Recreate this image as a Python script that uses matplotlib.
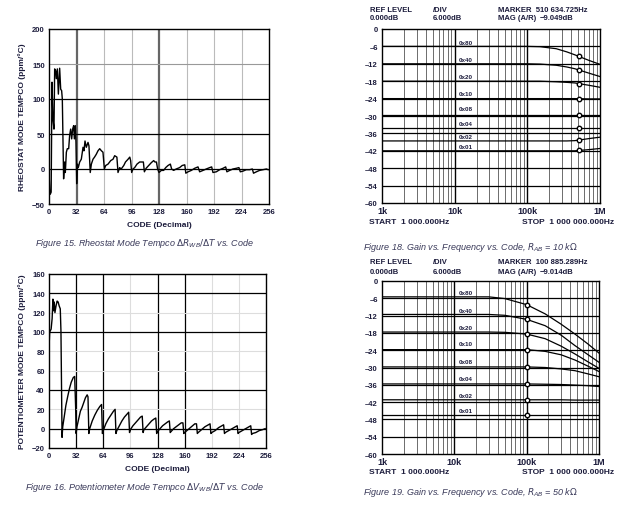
import matplotlib.pyplot as plt
from matplotlib.ticker import NullFormatter, FixedLocator

# ---- Figure 15: rheostat mode tempco
rheo_code = [0, 0.8, 1.5, 2.5, 3.5, 4.6, 5.8, 6.6, 7.8, 8.5,
             9.7, 10.9, 12.4, 13.6, 14.7, 15.5, 17, 18.2, 19, 20.2,
             21.3, 22.9, 24, 25.2, 26.4, 27.5, 28.7, 29.5, 30.6, 31.4,
             32.2, 33, 34.1, 35.7, 37.6, 39.6, 40.7, 41.9, 43.4, 45.4,
             46.5, 48, 49.3, 51.2, 53, 55, 57, 59, 61, 62.8,
             64.4, 66, 68.7, 71.8, 74.5, 76.4, 79, 80.3, 82.2, 84,
             87, 89, 92, 94, 95, 96.2, 97.7, 99.7, 102.4, 105.5,
             108.2, 109.8, 111, 113, 116, 119, 121.8, 123.3, 125, 126.4,
             128, 130.7, 133.4, 135.8, 138.5, 141.2, 142.7, 145, 148, 152,
             155, 158, 159.2, 161.8, 165.6, 169.5, 173.4, 175.3, 179.2, 183,
             187, 189.3, 190.8, 194.7, 198.6, 202.5, 205.6, 207, 210.2, 214,
             218, 221, 222.6, 225.8, 229.6, 233.5, 236.6, 238, 241.3, 245,
             249, 253, 255]
rheo_val = [-2, -29, -36, -33, 124, 71, 57, 143, 140, 129,
            143, 107, 144, 114, 112, 100, -14, 10, -5, 24,
            29, 29, 48, 57, 43, 57, 62, 43, 62, 38,
            -21, 7, 2, 10, 14, 31, 26, 40, 31, 38,
            33, -5, 7, 14, 17, 21, 26, 29, 26, 24,
            0, 5, 7, 12, 14, 19, 17, -5, 2, 0,
            5, 10, 14, 17, 12, -5, 0, 2, 7, 10,
            10, 10, -4, 1, 5, 9, 12, 10, 10, 0,
            -5, -2, -2, 2, 5, 7, 0, -2, 0, 2,
            5, 6, -6, -4, -2, 1, 3, -4, -2, 0,
            2, 3, -5, -4, -1, 1, 3, -4, -2, 0,
            1, 2, -4, -3, -1, -1, 0, -6, -4, -2,
            -1, 0, -1]

# ---- Figure 16: potentiometer mode tempco
pot_code = [0, 0.8, 2.5, 3.7, 4.6, 5.4, 6.2, 7, 8.3, 9.6,
            10.8, 12, 13.3, 14.1, 15.4, 16.2, 17.9, 19.9, 22, 24,
            26.2, 28.7, 30.3, 31.5, 32,
            33, 35, 37, 39, 41, 43, 45, 46, 47,
            48, 51, 54, 57, 60, 62, 63,
            64, 67, 70, 73, 76, 78, 79,
            80, 83, 86, 89, 92, 94, 95,
            96, 99, 102, 105, 108, 110, 111,
            112, 115, 118, 121, 124, 126, 127,
            128, 131, 134, 137, 140, 142, 143,
            144, 147, 150, 153, 156, 158, 159,
            160, 164, 168, 172, 174, 175,
            176, 180, 184, 188, 190, 191,
            192, 196, 200, 204, 206, 207,
            208, 212, 216, 220, 222, 223,
            224, 228, 232, 236, 238, 239,
            240, 244, 248, 252, 255]
pot_val = [83, 100, 103, 114, 134, 122, 131, 120, 127, 132,
           131, 127, 124, 101, -9, 2, 12, 24, 33, 41,
           48, 53, 54, 20, -5,
           2, 10, 18, 22, 27, 32, 35, 33, -5,
           0, 8, 14, 19, 23, 25, -5,
           -2, 5, 10, 14, 18, 20, -5,
           -2, 3, 8, 12, 15, 17, -4,
           -1, 3, 6, 9, 12, 13, -4,
           -1, 2, 5, 8, 10, 11, -5,
           -3, 0, 3, 5, 7, 8, -4,
           -3, 0, 2, 4, 6, 6, -5,
           -4, -1, 2, 5, 5, -5,
           -4, -1, 2, 4, 5, -5,
           -4, -2, 1, 3, 4, -5,
           -4, -2, 0, 2, 3, -5,
           -4, -2, 0, 2, 3, -6,
           -5, -4, -2, -1, 0]

# ---- Figures 18/19: gain vs frequency vs code
codes = ['0x80', '0x40', '0x20', '0x10', '0x08', '0x04', '0x02', '0x01']

f10 = [1e3, 1e4, 1e5, 1.5e5, 2.5e5, 3.5e5, 4.5e5, 7e5, 1e6]
g10 = {
    '0x80': [-6, -6, -6, -6.1, -6.8, -7.9, -8.9, -10.8, -12.2],
    '0x40': [-12, -12, -12, -12.1, -12.5, -13.1, -13.7, -15.2, -16.4],
    '0x20': [-18, -18, -18, -18, -18.2, -18.4, -18.6, -19.4, -20.1],
    '0x10': [-24, -24, -24, -24, -24, -24, -24, -24.1, -24.1],
    '0x08': [-29.5, -29.5, -29.5, -29.5, -29.5, -29.5, -29.5, -29.5, -29.5],
    '0x04': [-34.1, -34.1, -34.1, -34.1, -34.1, -34.1, -34.1, -34.1, -34.1],
    '0x02': [-38.6, -38.6, -38.6, -38.6, -38.6, -38.6, -38.5, -37.8, -37.3],
    '0x01': [-42, -42, -42, -42, -42, -42, -42, -41.6, -41.2],
}
mark10 = 510634.725

f50 = [1e3, 1e4, 3e4, 5e4, 1e5, 1.8e5, 3e5, 4.65e5, 7e5, 1e6]
g50 = {
    '0x80': [-5.5, -5.5, -5.5, -6.1, -8.2, -11.4, -15.0, -18.4, -21.8, -25.0],
    '0x40': [-11.6, -11.6, -11.6, -11.9, -13.3, -15.5, -18.8, -22.4, -25.5, -28.2],
    '0x20': [-17.7, -17.7, -17.7, -17.8, -18.4, -20.0, -22.6, -25.3, -28.0, -30.3],
    '0x10': [-23.8, -23.8, -23.8, -23.8, -23.8, -24.4, -25.6, -27.4, -29.5, -31.4],
    '0x08': [-29.8, -29.8, -29.8, -29.8, -29.8, -30.0, -30.5, -31.1, -32.2, -33.2],
    '0x04': [-35.7, -35.7, -35.7, -35.7, -35.7, -35.8, -35.9, -36.1, -36.3, -36.6],
    '0x02': [-41.2, -41.2, -41.2, -41.2, -41.2, -41.2, -41.2, -41.3, -41.3, -41.3],
    '0x01': [-46.4, -46.4, -46.4, -46.4, -46.4, -46.4, -46.4, -46.4, -46.4, -46.4],
}
mark50 = 100885.289

label_y10 = [-5.2, -11.2, -17.0, -22.6, -28.1, -33.0, -37.6, -41.2]
label_y50 = [-4.6, -10.6, -16.7, -22.3, -28.6, -34.4, -40.2, -45.3]

W, H = 620, 506
navy = '#1c1c3c'
capc = '#3a3a5a'
plt.rcParams['font.family'] = ['Liberation Sans', 'DejaVu Sans']

fig = plt.figure(figsize=(6.2, 5.06), dpi=100)


def box(x0, y0, x1, y1):
    return [x0 / W, 1 - y1 / H, (x1 - x0) / W, (y1 - y0) / H]


def ftext(x, y, s, **kw):
    fig.text(x / W, 1 - y / H, s, **kw)


def tempco(ax, code, val, ylim, yticks, vlines, hlines, ylabel):
    for x, c, lw in vlines:
        ax.axvline(x, color=c, lw=lw, zorder=1)
    for y, c, lw in hlines:
        ax.axhline(y, color=c, lw=lw, zorder=1)
    ax.plot(code, val, color='black', lw=1.0, zorder=3)
    ax.set_xlim(0, 256)
    ax.set_ylim(*ylim)
    ax.set_xticks(range(0, 257, 32))
    ax.set_yticks(yticks)
    ax.tick_params(length=0, labelsize=5.5, colors=navy, pad=3)
    for t in ax.get_xticklabels() + ax.get_yticklabels():
        t.set_fontweight('bold')
    ax.set_xlabel('CODE (Decimal)', fontsize=6, fontweight='bold', color=navy, labelpad=4)
    ax.set_ylabel(ylabel, fontsize=6, fontweight='bold', color=navy, labelpad=4)
    for s in ax.spines.values():
        s.set_linewidth(1.0)


# Figure 15
ax1 = fig.add_axes(box(49, 30, 269, 205))
tempco(ax1, rheo_code, rheo_val, (-50, 200), range(-50, 201, 50),
       [(32, '#666666', 1.6), (64, '#bbbbbb', 0.8), (96, '#bbbbbb', 0.8),
        (128, '#666666', 1.6), (160, '#bbbbbb', 0.8), (192, '#bbbbbb', 0.8),
        (224, '#bbbbbb', 0.8)],
       [(150, '#999999', 0.8), (100, 'black', 0.9), (50, 'black', 0.9), (0, 'black', 0.9)],
       'RHEOSTAT MODE TEMPCO (ppm/°C)')

# Figure 16
ax3 = fig.add_axes(box(49, 275, 266, 449))
tempco(ax3, pot_code, pot_val, (-20, 160), range(-20, 161, 20),
       [(32, 'black', 0.9), (64, 'black', 0.9), (96, '#dddddd', 0.8),
        (128, 'black', 0.9), (160, 'black', 0.9), (192, '#dddddd', 0.8),
        (224, '#dddddd', 0.8)],
       [(140, 'black', 0.9), (120, '#dddddd', 0.8), (100, 'black', 0.9),
        (80, '#dddddd', 0.8), (60, '#dddddd', 0.8), (40, 'black', 0.9),
        (20, '#dddddd', 0.8), (0, 'black', 0.9)],
       'POTENTIOMETER MODE TEMPCO (ppm/°C)')


def gainplot(ax, f, g, mark, label_y):
    minors = [m * 10 ** d for d in (3, 4, 5) for m in range(2, 10)]
    for x in minors:
        ax.axvline(x, color='#555555', lw=0.6, zorder=1)
    for x in (1e4, 1e5):
        ax.axvline(x, color='black', lw=1.0, zorder=1)
    for y in range(-54, 0, 6):
        ax.axhline(y, color='black', lw=0.9, zorder=1)
    for i, c in enumerate(codes):
        ax.plot(f, g[c], color='black', lw=0.9, zorder=3)
        # marker value at the marker frequency
        mv = None
        for j in range(len(f) - 1):
            if f[j] <= mark <= f[j + 1]:
                import math
                t = (math.log10(mark) - math.log10(f[j])) / (math.log10(f[j + 1]) - math.log10(f[j]))
                mv = g[c][j] + t * (g[c][j + 1] - g[c][j])
        ax.plot([mark], [mv], 'o', ms=3.2, mfc='white', mec='black', mew=1.0, zorder=4)
        ax.text(1.15e4, label_y[i], c, fontsize=4.5, fontweight='bold', color=navy, zorder=5)
    ax.set_xscale('log')
    ax.set_xlim(1e3, 1e6)
    ax.set_ylim(-60, 0)
    ax.xaxis.set_major_locator(FixedLocator([1e3, 1e4, 1e5, 1e6]))
    ax.xaxis.set_minor_formatter(NullFormatter())
    ax.set_xticklabels(['1k', '10k', '100k', '1M'])
    ax.set_yticks(range(-60, 1, 6))
    ax.set_yticklabels(['0' if v == 0 else '\u2013%d' % -v for v in range(-60, 1, 6)])
    ax.tick_params(which='both', length=0, labelsize=5.5, colors=navy, pad=3)
    ax.tick_params(axis='x', labelsize=6.5, pad=2)
    for t in ax.get_xticklabels() + ax.get_yticklabels():
        t.set_fontweight('bold')
    for s in ax.spines.values():
        s.set_linewidth(1.0)


# Figure 18
ax2 = fig.add_axes(box(382, 30, 600, 204))
gainplot(ax2, f10, g10, mark10, label_y10)

# Figure 19
ax4 = fig.add_axes(box(382, 282, 599, 455))
gainplot(ax4, f50, g50, mark50, label_y50)

hdr = dict(fontsize=5.5, fontweight='bold', color=navy, va='center')
for y0, mk, mag in ((10, '510 634.725Hz', '\u22129.049dB'), (263, '100 885.289Hz', '\u22129.014dB')):
    ftext(370, y0, 'REF LEVEL', **hdr)
    ftext(370, y0 + 9, '0.000dB', **hdr)
    ftext(433, y0, '/DIV', **hdr)
    ftext(433, y0 + 9, '6.000dB', **hdr)
    ftext(498, y0, 'MARKER  ' + mk, **hdr)
    ftext(498, y0 + 9, 'MAG (A/R)', **hdr)
    ftext(540, y0 + 9, mag, **hdr)

for y0 in (223, 473):
    ftext(369, y0, 'START  1 000.000Hz', fontsize=6, fontweight='bold', color=navy, va='center')
    ftext(522, y0, 'STOP  1 000 000.000Hz', fontsize=6, fontweight='bold', color=navy, va='center')

cap = dict(fontsize=6.5, style='italic', color=capc, ha='center', va='center')
ftext(145, 243, r'Figure 15. Rheostat Mode Tempco $\Delta R_{WB}/\Delta T$ vs. Code', **cap)
ftext(470, 248, r'Figure 18. Gain vs. Frequency vs. Code, $R_{AB}$ = 10 k$\Omega$', **cap)
ftext(145, 488, r'Figure 16. Potentiometer Mode Tempco $\Delta V_{WB}/\Delta T$ vs. Code', **cap)
ftext(470, 493, r'Figure 19. Gain vs. Frequency vs. Code, $R_{AB}$ = 50 k$\Omega$', **cap)

fig.savefig('out.png', dpi=100)
